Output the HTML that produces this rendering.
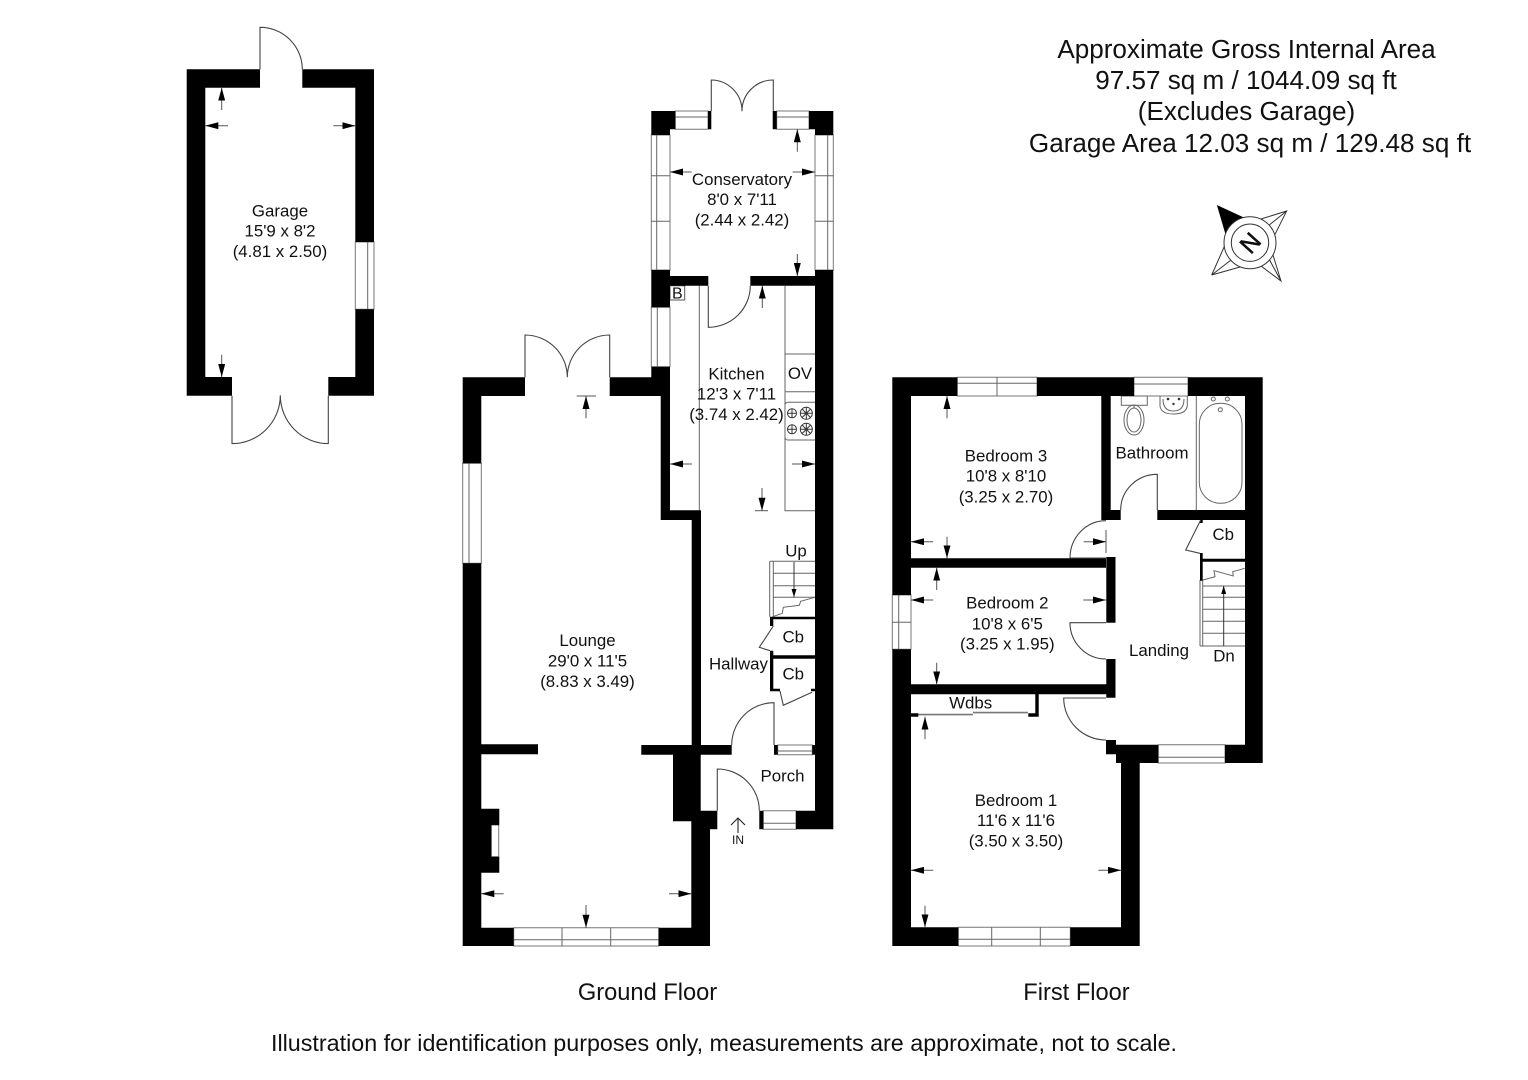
<!DOCTYPE html>
<html><head><meta charset="utf-8"><title>Floor plan</title>
<style>
html,body{margin:0;padding:0;background:#fff;width:1528px;height:1080px;overflow:hidden}
svg{display:block}
text{font-family:"Liberation Sans",Arial,sans-serif;fill:#111}
.r{font-size:16.85px;text-anchor:middle}
.t{font-size:26.08px;text-anchor:middle}
.f{font-size:23.65px;text-anchor:middle}
.b{font-size:23.3px;text-anchor:middle}
.d{fill:none;stroke:#444;stroke-width:1.1}
.w{fill:#fff;stroke:#777;stroke-width:1}
.l{fill:none;stroke:#666;stroke-width:1}
.a{stroke:#555;stroke-width:1;fill:none;marker-end:url(#h)}
.s{stroke:#333;stroke-width:1;fill:none;marker-end:url(#h2)}
.k{stroke:#555;stroke-width:1}
</style></head><body>
<svg width="1528" height="1080" viewBox="0 0 1528 1080" xmlns="http://www.w3.org/2000/svg">
<defs>
<marker id="h" markerUnits="userSpaceOnUse" viewBox="0 0 13 7" refX="13" refY="3.5" markerWidth="13" markerHeight="7" orient="auto"><path d="M0 0L13 3.5L0 7Z" fill="#000"/></marker>
<marker id="h2" markerUnits="userSpaceOnUse" viewBox="0 0 8 5" refX="8" refY="2.5" markerWidth="8" markerHeight="5" orient="auto"><path d="M0 0L8 2.5L0 5Z" fill="#000"/></marker>
</defs>
<rect width="1528" height="1080" fill="#fff"/>

<!-- windows -->
<g>
<path class="w" d="M355.3 242H374V309.3H355.3Z"/><path class="l" d="M367.7 242V309.3"/>
<path class="w" d="M675.3 111H708V129.3H675.3Z"/><path class="l" d="M675.3 117H708"/>
<path class="w" d="M776.7 111H809V129.3H776.7Z"/><path class="l" d="M776.7 117H809"/>
<path class="w" d="M651.3 135H670V270H651.3Z"/><path class="l" d="M656.7 135V270M651.3 175.7H670M651.3 221.3H670"/>
<path class="w" d="M815 135H833.3V270H815Z"/><path class="l" d="M827.7 135V270M815 175.7H833.3M815 221.3H833.3"/>
<path class="w" d="M651.3 307.3H670V366.7H651.3Z"/><path class="l" d="M657.3 307.3V366.7"/>
<path class="w" d="M462.7 463.3H481.3V563.3H462.7Z"/><path class="l" d="M469 463.3V563.3"/>
<path class="w" d="M513.7 927.7H658.7V946H513.7Z"/><path class="l" d="M513.7 939.7H658.7M562 927.7V946M610.7 927.7V946"/>
<path class="w" d="M763.3 810.7H796V829.3H763.3Z"/><path class="l" d="M763.3 823.3H796"/>
<path class="w" d="M777.7 745H812.3V754.7H777.7Z"/><path class="l" d="M777.7 751H812.3"/>
<path class="w" d="M957.3 377.3H1037V396H957.3Z"/><path class="l" d="M957.3 383.3H1037M997 377.3V396"/>
<path class="w" d="M1134 377.3H1188V396H1134Z"/><path class="l" d="M1134 384H1188"/>
<path class="w" d="M892.3 595H911V649.3H892.3Z"/><path class="l" d="M898.7 595V649.3M892.3 622.3H911"/>
<path class="w" d="M958.3 927.3H1070.3V946H958.3Z"/><path class="l" d="M958.3 939.3H1070.3M991.7 927.3V946M1040.3 927.3V946"/>
<path class="w" d="M1158.3 744.7H1225V763H1158.3Z"/><path class="l" d="M1158.3 757.3H1225"/>
<path class="w" d="M491.3 825H498.7V856.7H491.3Z"/>
</g>

<!-- fittings -->
<path class="l" d="M699.3 285.7V510.3M785 285.7V510.7H815M785 354H815M785 391.7H815"/>
<path class="l" d="M815 402.3H788Q785 402.3 785 405.3V437Q785 440 788 440H815"/>
<g fill="none" stroke="#333" stroke-width="1">
<circle cx="792" cy="413.3" r="4.5"/><circle cx="806.3" cy="413.3" r="6"/>
<circle cx="792" cy="429.3" r="4.5"/><circle cx="806.3" cy="429.3" r="6"/>
<path d="M787.5 413.3H796.5M792 408.8V417.8M800.3 413.3H812.3M806.3 407.3V419.3M802 409L810.6 417.6M810.6 409L802 417.6M787.5 429.3H796.5M792 424.8V433.8M800.3 429.3H812.3M806.3 423.3V435.3M802 425L810.6 433.6M810.6 425L802 433.6"/>
</g>
<path class="w" d="M670 285.7H684.7V300H670Z" style="stroke:#555"/>
<!-- stairs -->
<path class="l" d="M769.7 561.3V616.7M773.3 561.3V616.7M769.7 561.3H815M773.3 573.3H815M773.3 585.7H815M773.3 597.3H815"/>
<path class="l" d="M772.7 616.7L782.3 613.3L783.3 607.3L799.3 605.3L800.7 601.3L815 597.3"/>
<line class="s" x1="794" y1="562" x2="794" y2="597"/>
<path class="l" d="M1200 580V646M1202.7 580V646M1200 646H1245M1202.7 586H1245M1202.7 597.3H1245M1202.7 609.3H1245M1202.7 621.3H1245M1202.7 633.3H1245"/>
<path class="l" d="M1202.7 580L1215 576.7L1214 570.7L1233.3 576L1232.7 571.7L1244.7 568.3"/>
<line class="s" x1="1223.7" y1="646" x2="1223.7" y2="586"/>
<!-- bathroom -->
<path class="l" d="M1196.3 396V510"/>
<rect class="l" x="1199.3" y="403.3" width="42.7" height="100" rx="21" ry="21"/>
<circle class="l" cx="1213.3" cy="399" r="2"/><circle class="l" cx="1227.3" cy="399" r="2"/><circle class="l" cx="1220.3" cy="409.7" r="2"/>
<rect class="l" x="1121.3" y="396" width="26" height="9.3"/>
<ellipse class="l" cx="1134" cy="420" rx="10" ry="15"/><ellipse class="l" cx="1134" cy="420" rx="7" ry="12"/>
<path class="l" d="M1134 405.3V408M1160 396V406Q1161 414 1173.5 414Q1186 414 1187.3 406V396"/>
<path class="l" d="M1163 399Q1163 411 1173.5 411Q1184 411 1184 399"/>
<circle cx="1173.5" cy="404" r="1.2" fill="#333"/><circle cx="1168" cy="399" r="1.3" fill="#333"/><circle cx="1179" cy="399" r="1.3" fill="#333"/>
<!-- wardrobe doors -->
<path d="M918 714.6H973M973 712.6H1028" stroke="#777" stroke-width="1.6" fill="none"/>

<!-- walls -->
<path fill="#000" d="
M186.7 69.3H205.3V395.7H186.7Z M186.7 69.3H260V87.7H186.7Z M302.3 69.3H374V87.7H302.3Z M355.3 69.3H374V242H355.3Z M355.3 309.3H374V395.7H355.3Z M186.7 377H232V395.7H186.7Z M328.3 377H374V395.7H328.3Z
M651.3 111H675.3V129.3H651.3Z M651.3 111H670V135H651.3Z M708 111H711.3V129.3H708Z M772.7 111H776.7V129.3H772.7Z M809 111H833.3V129.3H809Z M815 111H833.3V135H815Z
M651.3 270H670V307.3H651.3Z M670 276H708.3V285.7H670Z M750.3 276H815V285.7H750.3Z M815 270H833.3V829.3H815Z
M651.3 366.7H670V396H651.3Z M609.7 377.3H660.7V396H609.7Z M660.7 366.7H670V520H660.7Z M660.7 510.3H701V520H660.7Z M691.7 510.3H701V754.7H691.7Z
M462.7 377.3H525V396H462.7Z M462.7 377.3H481.3V463.3H462.7Z M462.7 563.3H481.3V946H462.7Z M481.3 744.3H538V754.3H481.3Z M641.3 745H731.7V754.7H641.3Z M673 754H700.7V821.3H673Z M691.3 810.7H717.3V829.3H691.3Z M691.3 810.7H710V946H691.3Z M462.7 927.7H513.7V946H462.7Z M658.7 927.7H710V946H658.7Z
M481.3 808.7H499.3V825H481.3Z M481.3 856.7H499.3V872.7H481.3Z M481.3 825H491.3V856.7H481.3Z
M759.3 810.7H763.3V829.3H759.3Z M796 810.7H815V829.3H796Z M774 745H777.7V754.7H774Z M812.3 745H815V754.7H812.3Z
M770 616.7H815V619.3H770Z M770 655.3H815V658.7H770Z M770 616.7H773.3V626H770Z M770 650.7H773.3V691.3H770Z M770 688.7H780V691.3H770Z M811 688.7H815V691.3H811Z
M892.3 377.3H957.3V396H892.3Z M1037 377.3H1134V396H1037Z M1188 377.3H1262.7V396H1188Z M892.3 377.3H911V595H892.3Z M892.3 649.3H911V946H892.3Z M1245 377.3H1262.7V763H1245Z
M1101.3 396H1110.7V520H1101.3Z M1101.3 510H1120.7V520H1101.3Z M1157.3 510H1245V520H1157.3Z M911 558.3H1106V567.7H911Z M1106.3 557H1115.5V622.7H1106.3Z M1106.3 659H1115.5V697.7H1106.3Z M911 684.3H1115.5V694.3H911Z
M1035.3 694H1038.7V716.7H1035.3Z M911 713.3H918.3V716.7H911Z M1028.3 713.3H1038.7V716.7H1028.3Z M1106 740H1116V754.3H1106Z M1116 744.7H1158.3V763H1116Z M1225 744.7H1262.7V763H1225Z M1121 754H1139.7V946H1121Z M892.3 927.3H958.3V946H892.3Z M1070.3 927.3H1139.7V946H1070.3Z
M1200 520H1202.7V523H1200Z M1200 553H1202.7V580.7H1200Z M1200 558.7H1245V561.7H1200Z"/>

<!-- doors -->
<g class="d">
<path class="d" d="M260 69.3V27.3A42.3 42 0 0 1 302.3 69.3"/>
<path class="d" d="M232 395.7V443.6A48.3 48.3 0 0 0 280.3 395.3A48 48.3 0 0 0 328.3 443.6V395.7"/>
<path class="d" d="M711.3 111V80A31 31 0 0 1 742 111.3A31.3 31 0 0 1 773.3 80V111"/>
<path class="d" d="M708.3 285.7V327.3A42 41.6 0 0 0 750.3 285.7"/>
<path class="d" d="M525 377.3V335A42.3 42.3 0 0 1 567.3 377.3A42.4 42.3 0 0 1 609.7 335V377.3"/>
<path class="d" d="M774 745V702.7A42.3 42.3 0 0 0 731.7 745"/>
<path class="d" d="M717.3 810.7V769A42 41.7 0 0 1 759.3 810.7"/>
<path class="d" d="M773.3 626L759.3 647.3L770 650.7"/>
<path class="d" d="M780 691L783.3 705.3L812 692.3"/>
<path class="d" d="M1157.3 510V474.3A36.6 35.7 0 0 0 1120.7 510"/>
<path class="d" d="M1106 520.7A36 37.3 0 0 0 1070 558H1106"/>
<path class="d" d="M1106 622.7H1070A36 36.3 0 0 0 1106 659"/>
<path class="d" d="M1106 698H1063.7A42.3 42 0 0 0 1106 740"/>
<path class="d" d="M1200.7 520L1185.7 550L1200 553.3"/>
</g>

<!-- dimension arrows -->
<line class="a" x1="221.7" y1="110" x2="221.7" y2="87.7"/>
<line class="a" x1="228" y1="125.7" x2="205.3" y2="125.7"/>
<line class="a" x1="333.3" y1="125.7" x2="355.3" y2="125.7"/>
<line class="a" x1="221.7" y1="354.7" x2="221.7" y2="377"/>
<line class="a" x1="691.7" y1="172" x2="670" y2="172"/>
<line class="a" x1="792.7" y1="172" x2="815" y2="172"/>
<line class="a" x1="797.3" y1="151.7" x2="797.3" y2="129.3"/>
<line class="a" x1="797.3" y1="254" x2="797.3" y2="276"/>
<line class="a" x1="762.3" y1="308" x2="762.3" y2="285.7"/>
<line class="a" x1="692" y1="464" x2="670" y2="464"/>
<line class="a" x1="792" y1="464" x2="815" y2="464"/>
<line class="a" x1="762" y1="488" x2="762" y2="510.7"/>
<path class="k" d="M755 510.7H768"/>
<line class="a" x1="586" y1="418.3" x2="586" y2="396"/>
<path class="k" d="M576.7 396H596"/>
<line class="a" x1="503.7" y1="893.7" x2="481.3" y2="893.7"/>
<line class="a" x1="669" y1="893.7" x2="691.3" y2="893.7"/>
<line class="a" x1="586" y1="905" x2="586" y2="927.7"/>
<line class="a" x1="947" y1="418.3" x2="947" y2="396"/>
<line class="a" x1="933" y1="541.7" x2="911" y2="541.7"/>
<line class="a" x1="947" y1="536.7" x2="947" y2="558.3"/>
<line class="a" x1="1083.7" y1="541.7" x2="1106" y2="541.7"/>
<path class="k" d="M1106 530V553"/>
<line class="a" x1="936.7" y1="590" x2="936.7" y2="567.7"/>
<line class="a" x1="933.3" y1="600" x2="911" y2="600"/>
<line class="a" x1="1083.3" y1="600" x2="1106" y2="600"/>
<line class="a" x1="936.7" y1="662.7" x2="936.7" y2="684.3"/>
<line class="a" x1="925" y1="739.3" x2="925" y2="716.7"/>
<line class="a" x1="933.3" y1="870.3" x2="911" y2="870.3"/>
<line class="a" x1="1098.3" y1="870.3" x2="1121" y2="870.3"/>
<line class="a" x1="925" y1="905.7" x2="925" y2="927.3"/>
<path d="M738 833V818M731 825L738 818L745 825" fill="none" stroke="#222" stroke-width="1.1"/>

<!-- labels -->
<text class="r" x="280" y="216.5">Garage</text><text class="r" x="280" y="236.7">15'9 x 8'2</text><text class="r" x="280" y="257">(4.81 x 2.50)</text>
<text class="r" x="742" y="185">Conservatory</text><text class="r" x="742" y="205">8'0 x 7'11</text><text class="r" x="742" y="225.5">(2.44 x 2.42)</text>
<text class="r" x="736.5" y="379.3">Kitchen</text><text class="r" x="736.5" y="399.6">12'3 x 7'11</text><text class="r" x="736.5" y="420">(3.74 x 2.42)</text>
<text class="r" x="800" y="379">OV</text>
<text x="677.3" y="298.4" style="font-size:16px;text-anchor:middle">B</text>
<text class="r" x="796" y="556.7">Up</text>
<text class="r" x="587.5" y="646">Lounge</text><text class="r" x="587.5" y="666.5">29'0 x 11'5</text><text class="r" x="587.5" y="687">(8.83 x 3.49)</text>
<text class="r" x="793.3" y="642.7">Cb</text><text class="r" x="793.3" y="679.3">Cb</text>
<text class="r" x="738.5" y="669.5">Hallway</text>
<text class="r" x="782.5" y="781.7">Porch</text>
<text x="738" y="844" style="font-size:12px;text-anchor:middle">IN</text>
<text class="r" x="1006" y="461.7">Bedroom 3</text><text class="r" x="1006" y="481.7">10'8 x 8'10</text><text class="r" x="1006" y="502.3">(3.25 x 2.70)</text>
<text class="r" x="1007.3" y="608.3">Bedroom 2</text><text class="r" x="1007.3" y="629.3">10'8 x 6'5</text><text class="r" x="1007.3" y="649.3">(3.25 x 1.95)</text>
<text class="r" x="970.7" y="708.3">Wdbs</text>
<text class="r" x="1016" y="806">Bedroom 1</text><text class="r" x="1016" y="826">11'6 x 11'6</text><text class="r" x="1016" y="846.7">(3.50 x 3.50)</text>
<text class="r" x="1152" y="458.3">Bathroom</text>
<text class="r" x="1223.3" y="540">Cb</text>
<text class="r" x="1159" y="656">Landing</text>
<text class="r" x="1224" y="661.7">Dn</text>

<text class="t" x="1246.5" y="58">Approximate Gross Internal Area</text>
<text class="t" x="1246" y="89">97.57 sq m / 1044.09 sq ft</text>
<text class="t" x="1246.5" y="120">(Excludes Garage)</text>
<text class="t" x="1250" y="152">Garage Area 12.03 sq m / 129.48 sq ft</text>
<text class="f" x="647.5" y="1000">Ground Floor</text>
<text class="f" x="1076.5" y="1000">First Floor</text>
<text class="b" x="724" y="1051">Illustration for identification purposes only, measurements are approximate, not to scale.</text>

<!-- compass -->
<g fill="none" stroke="#333" stroke-width="1">
<path fill="#000" stroke="#000" d="M1217.7 206L1244.3 218.3L1225.7 233.3Z"/>
<path d="M1261 219L1286.7 211L1275 234.3M1286.7 211L1268 226"/>
<path d="M1231 260L1211.7 275L1225 245M1211.7 275L1240 267"/>
<path d="M1261 266L1281 281L1273 255M1281 281L1269 259"/>
<circle cx="1250" cy="242.7" r="26" fill="#fff"/>
<circle cx="1250" cy="242.7" r="18.7"/>
</g>
<text x="1250" y="242.7" transform="rotate(-48 1250 242.7)" text-anchor="middle" dy="8.8" style="font-size:24.5px;stroke:#000;stroke-width:.5">N</text>
</svg>
</body></html>
